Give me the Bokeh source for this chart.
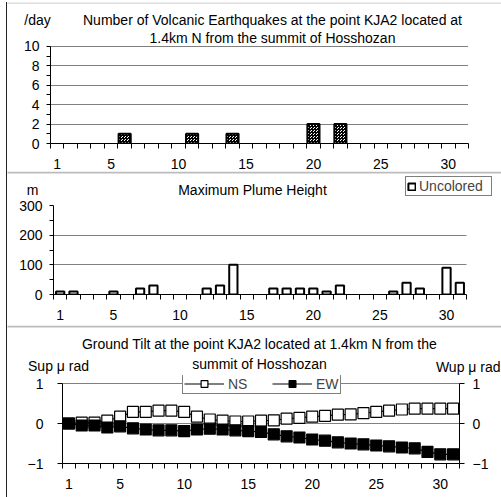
from bokeh.plotting import figure
from bokeh.models import (Range1d, LinearAxis, FixedTicker, Label, Legend, LegendItem, BoxAnnotation)
from bokeh.layouts import column
from bokeh.embed import file_html
from bokeh.resources import INLINE

# ---------------- data ----------------
days = list(range(1, 32))
x_tick_labels = [1, 5, 10, 15, 20, 25, 30]

quake_days = [6, 11, 14, 20, 22]
quake_counts = [1, 1, 1, 2, 2]

plume_days = [1, 2, 5, 7, 8, 12, 13, 14, 17, 18, 19, 20, 21, 22, 26, 27, 28, 30, 31]
plume_heights = [10, 10, 10, 20, 30, 20, 30, 100, 20, 20, 20, 20, 10, 30, 10, 40, 20, 90, 40]

tilt_ns = [0.00, 0.02, 0.02, 0.07, 0.17, 0.29, 0.29, 0.32, 0.32, 0.29, 0.17, 0.10, 0.07, 0.05, 0.05,
           0.07, 0.08, 0.12, 0.14, 0.17, 0.19, 0.22, 0.23, 0.26, 0.29, 0.32, 0.35, 0.37, 0.37, 0.37, 0.37]
tilt_ew = [0.00, -0.05, -0.05, -0.10, -0.07, -0.12, -0.15, -0.17, -0.17, -0.19, -0.15, -0.13, -0.15, -0.17, -0.19,
           -0.21, -0.27, -0.32, -0.35, -0.40, -0.43, -0.47, -0.50, -0.52, -0.55, -0.57, -0.60, -0.62, -0.71, -0.77, -0.77]

title1 = ["Number of Volcanic Earthquakes at the point KJA2 located at",
          "1.4km N from the summit of Hosshozan"]
title2 = "Maximum Plume Height"
title3 = ["Ground Tilt at the point KJA2 located at 1.4km N from the",
          "summit of Hosshozan"]

FONT = "Liberation Sans"
FS = "14px"
W = 494
minor_x = [i + 0.5 for i in range(0, 32)]
LINE = "#222222"


def make_band(h, sep_width):
    """Header strip of a panel: frame covers the whole canvas (1 unit = 1 px, y downwards)."""
    b = figure(width=W, height=h, x_range=Range1d(0, W), y_range=Range1d(h, 0),
               x_axis_location=None, y_axis_location=None,
               output_backend="svg", toolbar_location=None, frame_align=False,
               min_border_left=0, min_border_right=0, min_border_top=0, min_border_bottom=0)
    b.outline_line_color = None
    b.grid.visible = False
    b.background_fill_color = "white"
    b.border_fill_color = "white"
    b.add_layout(BoxAnnotation(left=-20, right=W + 20, top=sep_width / 2.0, bottom=h + 20,
                               fill_alpha=0, line_color=LINE, line_width=sep_width))
    return b


def add_text(b, x, y, text, align="center", units="data"):
    b.add_layout(Label(x=x, y=y, x_units=units, y_units=units, text=text,
                       text_align=align, text_baseline="middle",
                       text_font=FONT, text_font_size=FS, text_color="black"))


def make_plot(h, yr, left, right, top, bottom):
    p = figure(width=W, height=h, x_range=Range1d(0.5, 31.5), y_range=Range1d(*yr),
               output_backend="svg", toolbar_location=None, frame_align=False,
               min_border_left=left, min_border_right=right,
               min_border_top=top, min_border_bottom=bottom)
    p.outline_line_color = None
    p.background_fill_color = "white"
    p.border_fill_color = "white"
    p.xgrid.visible = False
    p.ygrid.grid_line_color = "black"
    p.ygrid.grid_line_dash = "1 1"
    p.ygrid.grid_line_width = 1
    xa = p.xaxis[0]
    xa.ticker = FixedTicker(ticks=x_tick_labels, minor_ticks=minor_x)
    xa.major_tick_out = 0
    xa.major_tick_in = 0
    xa.minor_tick_out = 5
    xa.minor_tick_in = 0
    xa.major_label_standoff = 10
    for ax in (p.xaxis[0], p.yaxis[0]):
        ax.axis_line_color = "black"
        ax.major_tick_line_color = "black"
        ax.minor_tick_line_color = "black"
        ax.major_label_text_font = FONT
        ax.major_label_text_font_size = FS
        ax.major_label_text_color = "black"
    return p


# ---------------- panel 1: earthquakes ----------------
b1 = make_band(26, 1)
add_text(b1, 30, 17, "/day")
add_text(b1, 265, 17, title1[0])

# frame reaches up into the header so that the 2nd title line shares the canvas with the "10" label
p1 = make_plot(143, (0, 11.84), 43, 33, 0, 27)
add_text(p1, 265, 9, title1[1], units="canvas")
p1.vbar(x=quake_days, top=quake_counts, width=0.9, bottom=0,
        fill_color="white", hatch_pattern="*", hatch_scale=3, hatch_weight=1, hatch_color="black",
        line_color="black", line_width=2)
ya = p1.yaxis[0]
ya.ticker = FixedTicker(ticks=[0, 2, 4, 6, 8, 10], minor_ticks=[1, 3, 5, 7, 9])
ya.bounds = (0, 10)
ya.major_tick_out = 4
ya.major_tick_in = 0
ya.minor_tick_out = 4
ya.minor_tick_in = 0
ya.major_label_standoff = 7

# ---------------- panel 2: plume ----------------
b2 = make_band(26, 2)
add_text(b2, 245, 18, title2)
add_text(b2, 25, 18, "m")
p2 = make_plot(128, (0, 300), 46, 35, 8, 31)
bars2 = p2.vbar(x=plume_days, top=plume_heights, width=0.62, bottom=0,
                fill_color="white", line_color="black", line_width=2)
# legend key for the header strip (same style as the bars, not drawn itself)
key2 = b2.vbar(x=plume_days, top=plume_heights, width=0.62, bottom=0,
               fill_color="white", line_color="black", line_width=2, visible=False)
leg2 = Legend(items=[LegendItem(label="Uncolored", renderers=[key2])], location=(398, 1),
              border_line_color="black", border_line_width=1, background_fill_color="white",
              background_fill_alpha=1, label_text_font=FONT, label_text_font_size=FS,
              glyph_width=9, glyph_height=9, label_standoff=3, padding=1, margin=0,
              label_height=12, label_width=71, spacing=0,
              inactive_fill_alpha=0)
b2.add_layout(leg2)
ya = p2.yaxis[0]
ya.ticker = FixedTicker(ticks=[0, 100, 200, 300], minor_ticks=[50, 150, 250])
ya.major_tick_out = 4
ya.major_tick_in = 0
ya.minor_tick_out = 4
ya.minor_tick_in = 0
ya.major_label_standoff = 7

# ---------------- panel 3: tilt ----------------
b3 = make_band(50, 2)
add_text(b3, 252, 18, title3[0])
add_text(b3, 252, 38, title3[1])
add_text(b3, 51, 40, "Sup \u03bc rad")
add_text(b3, 493, 41, "Wup \u03bc rad", align="right")

p3 = make_plot(122, (-1, 1.2), 55, 42, 0, 34)
ns_line = p3.line(days, tilt_ns, line_color="black", line_width=1.2)
ns_pts = p3.scatter(days, tilt_ns, marker="square", size=11, fill_color="white",
                    line_color="black", line_width=1.2)
ew_line = p3.line(days, tilt_ew, line_color="black", line_width=1.2)
ew_pts = p3.scatter(days, tilt_ew, marker="square", size=11, fill_color="black",
                    line_color="black", line_width=1.2)
ytick3 = FixedTicker(ticks=[-1, 0, 1], minor_ticks=[])
ya = p3.yaxis[0]
ya.ticker = ytick3
ya.bounds = (-1, 1)
ya.major_tick_out = 5
ya.major_tick_in = 0
ya.major_label_standoff = 14
ya.major_label_overrides = {-1: "\u22121"}
ra = LinearAxis(ticker=ytick3, bounds=(-1, 1), major_tick_out=5, major_tick_in=0,
                major_label_standoff=8, major_label_overrides={-1: "\u22121"},
                axis_line_color="black", major_tick_line_color="black",
                major_label_text_font=FONT, major_label_text_font_size=FS,
                major_label_text_color="black")
p3.add_layout(ra, "right")
p3.ygrid.ticker = ytick3
leg3 = Legend(items=[LegendItem(label="NS", renderers=[ns_line, ns_pts]),
                     LegendItem(label="EW", renderers=[ew_line, ew_pts])],
              location=(120, 69), orientation="horizontal",
              border_line_color="black", border_line_width=1, background_fill_color="white",
              background_fill_alpha=1, label_text_font=FONT, label_text_font_size=FS,
              glyph_width=40, glyph_height=17, label_standoff=4, padding=1, margin=0,
              label_height=12, spacing=24)
p3.add_layout(leg3)

page = column(b1, p1, b2, p2, b3, p3, spacing=0,
              styles={"border-left": "1px solid #222222", "margin-left": "6px", "margin-top": "2px"})
open("out.html", "w").write(file_html(page, INLINE))
